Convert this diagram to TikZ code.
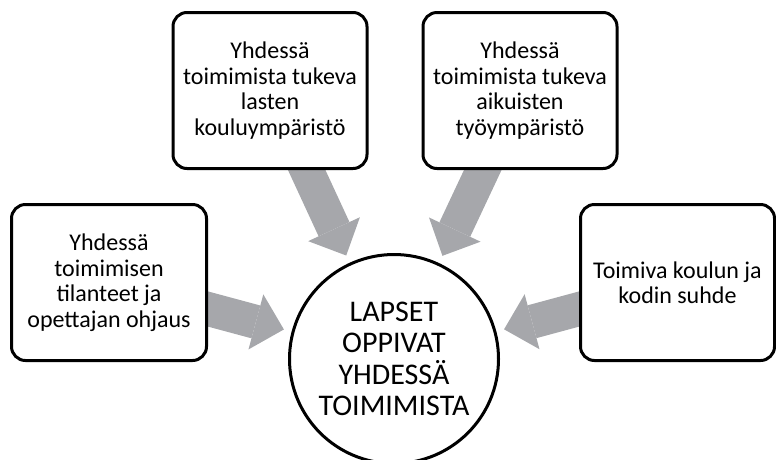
\documentclass[tikz,border=0pt]{standalone}
\usepackage{fontspec}
\setmainfont{Carlito}
\usepackage{tikz}
\usetikzlibrary{positioning, shapes, arrows.meta, backgrounds}
\definecolor{arrowgray}{RGB}{166,167,171}

\begin{document}
\begin{tikzpicture}[x=1pt, y=-1pt,
  box/.style={draw, rectangle, rounded corners=14pt, line width=3pt, fill=white,
    minimum width=194pt, minimum height=156pt, align=center,
    font=\fontsize{24}{25.5}\selectfont},
  goal/.style={draw, circle, line width=3pt, fill=white, minimum size=209pt,
    align=center, font=\fontsize{30}{31.5}\selectfont},
  feed/.style={arrowgray, line width=34pt, shorten <=-20pt, shorten >=8pt,
    -{Triangle[width=57pt, length=29pt, line width=0pt]}}]
  \useasboundingbox (0,0) rectangle (776,459);

  \node (lapset) [goal] at (394,359) {LAPSET\\OPPIVAT\\YHDESSÄ\\TOIMIMISTA};
  \node (kouluymp) [box] at (270,90.5) {Yhdessä\\toimimista tukeva\\lasten\\kouluympäristö};
  \node (tyoymp) [box] at (520,90.5) {Yhdessä\\toimimista tukeva\\aikuisten\\työympäristö};
  \node (tilanteet) [box, minimum width=195pt] at (109,282.5) {Yhdessä\\toimimisen\\tilanteet ja\\opettajan ohjaus};
  \node (kotisuhde) [box] at (677.5,282.5) {Toimiva koulun ja\\kodin suhde};

  \begin{scope}[on background layer]
    \draw [feed] (kouluymp) -- (lapset);
    \draw [feed] (tyoymp) -- (lapset);
    \draw [feed] (tilanteet) -- (lapset);
    \draw [feed] (kotisuhde) -- (lapset);
  \end{scope}
\end{tikzpicture}
\end{document}
